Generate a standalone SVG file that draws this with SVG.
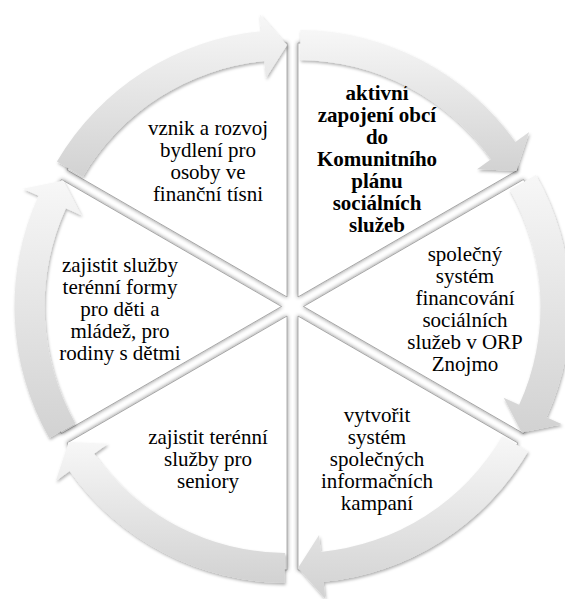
<svg xmlns="http://www.w3.org/2000/svg" width="565" height="599" viewBox="0 0 565 599">
<defs>
<style>
text, tspan { font-family: 'Liberation Serif', 'Times New Roman', serif !important; font-size: 21px; fill: #000; text-anchor: middle; }
.bd { font-weight: bold; }
.w { fill: #ffffff; stroke: #8c8c8c; stroke-width: 0.7; filter: url(#wsh); }
</style>
<linearGradient id="ag" x1="0" y1="0" x2="0" y2="1">
<stop offset="0" stop-color="#f7f7f7"/>
<stop offset="1" stop-color="#d2d2d2"/>
</linearGradient>
<filter id="wsh" x="-10%" y="-10%" width="120%" height="120%">
<feGaussianBlur in="SourceAlpha" stdDeviation="2.2" result="b"/>
<feFlood flood-color="#000" flood-opacity="0.5"/>
<feComposite in2="b" operator="in" result="s"/>
<feMerge><feMergeNode in="s"/><feMergeNode in="SourceGraphic"/></feMerge>
</filter>
<filter id="ash" x="-10%" y="-10%" width="120%" height="120%">
<feGaussianBlur in="SourceAlpha" stdDeviation="1.6" result="b"/>
<feOffset in="b" dx="1" dy="1.5" result="o"/>
<feFlood flood-color="#000" flood-opacity="0.3"/>
<feComposite in2="o" operator="in" result="s"/>
<feMerge><feMergeNode in="s"/><feMergeNode in="SourceGraphic"/></feMerge>
</filter>
</defs>
<rect width="565" height="599" fill="#ffffff"/>

<g id="node-1">
<path class="w" d="M298,296.97 L298,42.97 A254,254 0 0 1 517.97,169.97 Z"/>
<text class="bd" x="377" y="100" font-family="Liberation Serif">aktivní</text>
<text class="bd" x="377" y="122" font-family="Liberation Serif">zapojení obcí</text>
<text class="bd" x="377" y="144" font-family="Liberation Serif">do</text>
<text class="bd" x="377" y="166" font-family="Liberation Serif">Komunitního</text>
<text class="bd" x="377" y="188" font-family="Liberation Serif">plánu</text>
<text class="bd" x="377" y="210" font-family="Liberation Serif">sociálních</text>
<text class="bd" x="377" y="232" font-family="Liberation Serif">služeb</text>
</g>
<g id="node-2">
<path class="w" d="M303.5,306.5 L523.47,179.5 A254,254 0 0 1 523.47,433.5 Z"/>
<text x="465" y="261" font-family="Liberation Serif">společný</text>
<text x="465" y="283" font-family="Liberation Serif">systém</text>
<text x="465" y="305" font-family="Liberation Serif">financování</text>
<text x="465" y="327" font-family="Liberation Serif">sociálních</text>
<text x="465" y="349" font-family="Liberation Serif">služeb v ORP</text>
<text x="465" y="371" font-family="Liberation Serif">Znojmo</text>
</g>
<g id="node-3">
<path class="w" d="M298,316.03 L517.97,443.03 A254,254 0 0 1 298,570.03 Z"/>
<text x="377" y="421.5" font-family="Liberation Serif">vytvořit</text>
<text x="377" y="443.5" font-family="Liberation Serif">systém</text>
<text x="377" y="465.5" font-family="Liberation Serif">společných</text>
<text x="377" y="487.5" font-family="Liberation Serif">informačních</text>
<text x="377" y="509.5" font-family="Liberation Serif">kampaní</text>
</g>
<g id="node-4">
<path class="w" d="M287,316.03 L287,570.03 A254,254 0 0 1 67.03,443.03 Z"/>
<text x="208" y="443.5" font-family="Liberation Serif">zajistit terénní</text>
<text x="208" y="465.5" font-family="Liberation Serif">služby pro</text>
<text x="208" y="487.5" font-family="Liberation Serif">seniory</text>
</g>
<g id="node-5">
<path class="w" d="M281.5,306.5 L61.53,433.5 A254,254 0 0 1 61.53,179.5 Z"/>
<text x="120" y="271.5" font-family="Liberation Serif">zajistit služby</text>
<text x="120" y="293.5" font-family="Liberation Serif">terénní formy</text>
<text x="120" y="315.5" font-family="Liberation Serif">pro děti a</text>
<text x="120" y="337.5" font-family="Liberation Serif">mládež, pro</text>
<text x="120" y="359.5" font-family="Liberation Serif">rodiny s dětmi</text>
</g>
<g id="node-6">
<path class="w" d="M287,296.97 L67.03,169.97 A254,254 0 0 1 287,42.97 Z"/>
<text x="208" y="135" font-family="Liberation Serif">vznik a rozvoj</text>
<text x="208" y="157" font-family="Liberation Serif">bydlení pro</text>
<text x="208" y="179" font-family="Liberation Serif">osoby ve</text>
<text x="208" y="201" font-family="Liberation Serif">finanční tísni</text>
</g>

<g id="connectors" fill="url(#ag)" filter="url(#ash)">
<path d="M300.33,29.98 A267,267 0 0 1 515.37,141.92 L529.21,132.05 L516.24,170.97 L477.11,169.22 L490.95,159.34 A237,237 0 0 0 300.07,59.98 Z"/>
<path d="M535.89,175.02 A267,267 0 0 1 546.46,417.22 L561.93,424.27 L521.74,432.5 L503.69,397.73 L519.16,404.78 A237,237 0 0 0 509.77,189.8 Z"/>
<path d="M528.05,451.54 A267,267 0 0 1 323.59,581.8 L325.22,598.72 L298,568.03 L319.09,535.02 L320.72,551.94 A237,237 0 0 0 502.21,436.32 Z"/>
<path d="M284.67,583.02 A267,267 0 0 1 69.63,471.08 L55.79,480.95 L68.76,442.03 L107.89,443.78 L94.05,453.66 A237,237 0 0 0 284.93,553.02 Z"/>
<path d="M49.11,437.98 A267,267 0 0 1 38.54,195.78 L23.07,188.73 L63.26,180.5 L81.31,215.27 L65.84,208.22 A237,237 0 0 0 75.23,423.2 Z"/>
<path d="M56.95,161.46 A267,267 0 0 1 261.41,31.2 L259.78,14.28 L287,44.97 L265.91,77.98 L264.28,61.06 A237,237 0 0 0 82.79,176.68 Z"/>
</g>
</svg>
